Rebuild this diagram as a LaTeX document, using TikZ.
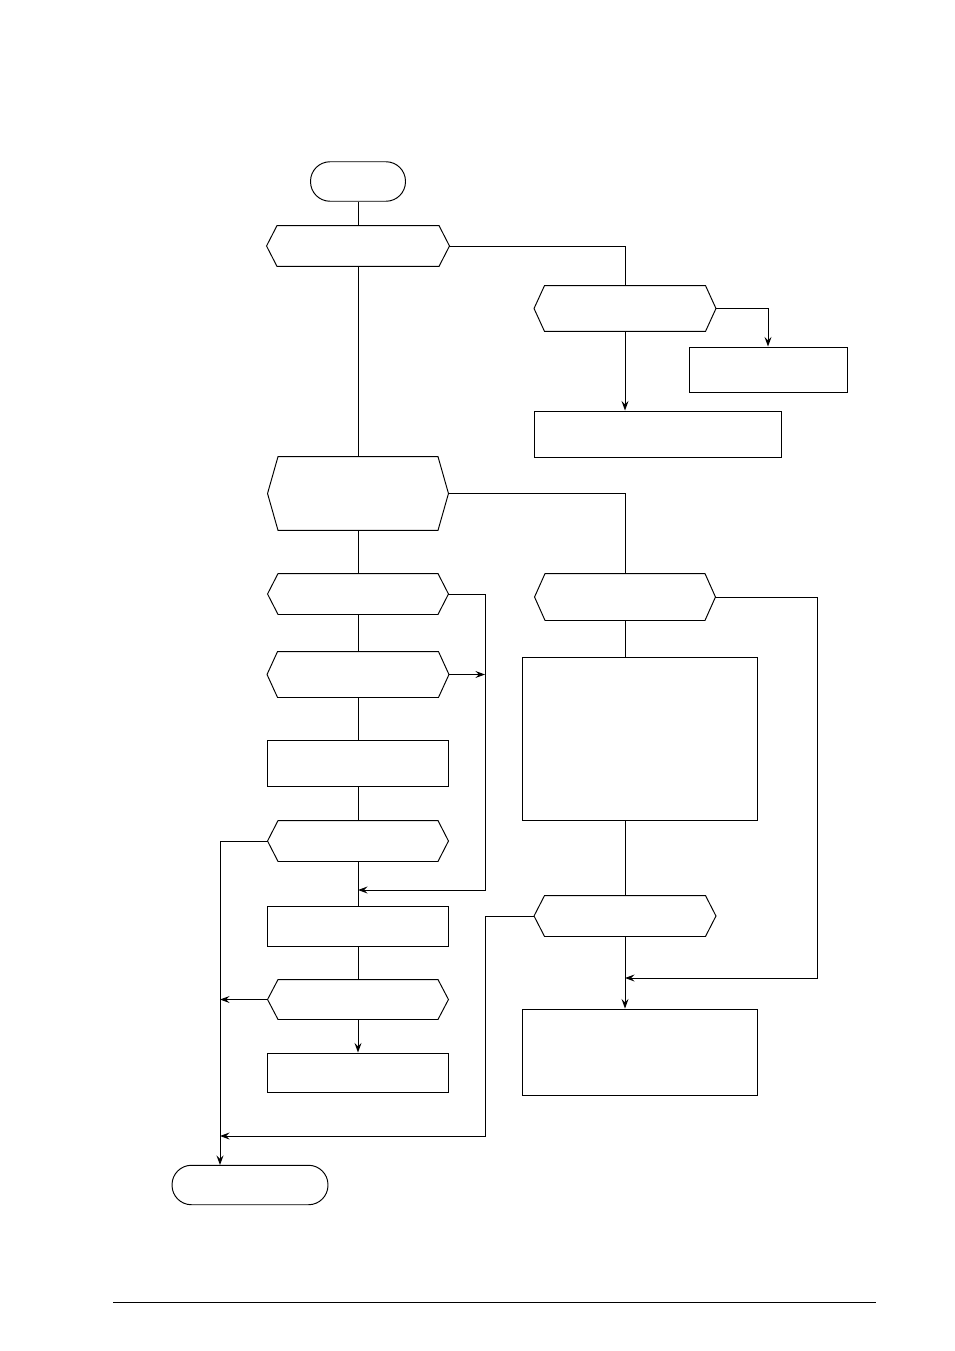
\documentclass[tikz,border=0pt]{standalone}
\usepackage{tikz}
\usetikzlibrary{arrows.meta,positioning,calc}

\begin{document}
\begin{tikzpicture}[
    x=0.02cm, y=-0.02cm,
    line width=0.55pt,
    terminal/.style={rectangle, draw, rounded corners=0.39cm, minimum width=#1, minimum height=0.79cm, inner sep=0pt},
    decide/.style={rectangle, minimum width=3.6cm, minimum height=#1, inner sep=0pt},
    process/.style={rectangle, draw, inner sep=0pt},
    arrow/.style={-{Stealth[length=5.5pt, width=4pt, inset=2pt]}}
]
\useasboundingbox (0,0) rectangle (954,1351);

% left column
\node[terminal=1.9cm] (start) at (358,181.5) {};
\node[decide=0.8cm, minimum width=3.64cm] (ask) at (358,246) {};
\node[decide=1.46cm] (select) at (358,493.5) {};
\node[decide=0.8cm] (testa) at (358,594) {};
\node[decide=0.9cm, minimum width=3.62cm] (testb) at (358,674.5) {};
\node[process, minimum width=3.62cm, minimum height=0.92cm] (setup) at (358,763) {};
\node[decide=0.8cm] (testc) at (358,841) {};
\node[process, minimum width=3.62cm, minimum height=0.8cm] (load) at (358,926) {};
\node[decide=0.78cm] (testd) at (358,999.5) {};
\node[process, minimum width=3.62cm, minimum height=0.78cm] (store) at (358,1072.5) {};
\node[terminal=3.12cm] (stop) at (250,1185) {};

% right column
\node[decide=0.9cm, minimum width=3.62cm] (mode) at (625,308.5) {};
\node[process, minimum width=3.16cm, minimum height=0.9cm] (warn) at (768,369.5) {};
\node[process, minimum width=4.94cm, minimum height=0.92cm] (init) at (657.5,434) {};
\node[decide=0.92cm] (teste) at (625,597) {};
\node[process, minimum width=4.7cm, minimum height=3.26cm] (work) at (639.5,738.5) {};
\node[decide=0.8cm, minimum width=3.62cm] (testf) at (625,916) {};
\node[process, minimum width=4.7cm, minimum height=1.72cm] (report) at (639.5,1052) {};

% hexagon outlines
\foreach \n in {ask,select,testa,testb,testc,testd,mode,teste,testf}
    \draw (\n.west) -- ([xshift=0.21cm]\n.north west) -- ([xshift=-0.21cm]\n.north east)
        -- (\n.east) -- ([xshift=-0.21cm]\n.south east) -- ([xshift=0.21cm]\n.south west) -- cycle;

% junctions
\coordinate (rj) at (485,890);
\coordinate (mj) at (358,890);
\coordinate (ll) at (220,1165);
\coordinate (bj) at (485,1136);
\coordinate (rr) at (817,978);

\draw (start) -- (ask);
\draw (ask.east) -| (mode.north);
\draw[arrow] (mode.east) -| (warn.north);
\draw[arrow] (mode.south) -- (mode.south |- init.north);
\draw (ask.south) -- (select.north);
\draw (select.east) -| (teste.north);
\draw (select.south) -- (testa.north);
\draw (testa.south) -- (testb.north);
\draw[arrow] (testa.east) -| (rj) -- (mj);
\draw[arrow] (testb.east) -- (testb.east -| rj);
\draw (testb.south) -- (setup.north);
\draw (setup.south) -- (testc.north);
\draw (testc.south) -- (load.north);
\draw[arrow] (testc.west) -| (ll);
\draw (load.south) -- (testd.north);
\draw[arrow] (testd.west) -- (testd.west -| ll);
\draw[arrow] (testd.south) -- (store.north);
\draw (teste.south) -- (teste.south |- work.north);
\draw[arrow] (teste.east) -| (rr) -- (rr -| testf.south);
\draw (testf.north |- work.south) -- (testf.north);
\draw[arrow] (testf.south) -- (testf.south |- report.north);
\draw[arrow] (testf.west) -| (bj) -- (bj -| ll);

% footer rule
\draw (113,1302) -- (876,1302);

\end{tikzpicture}
\end{document}
